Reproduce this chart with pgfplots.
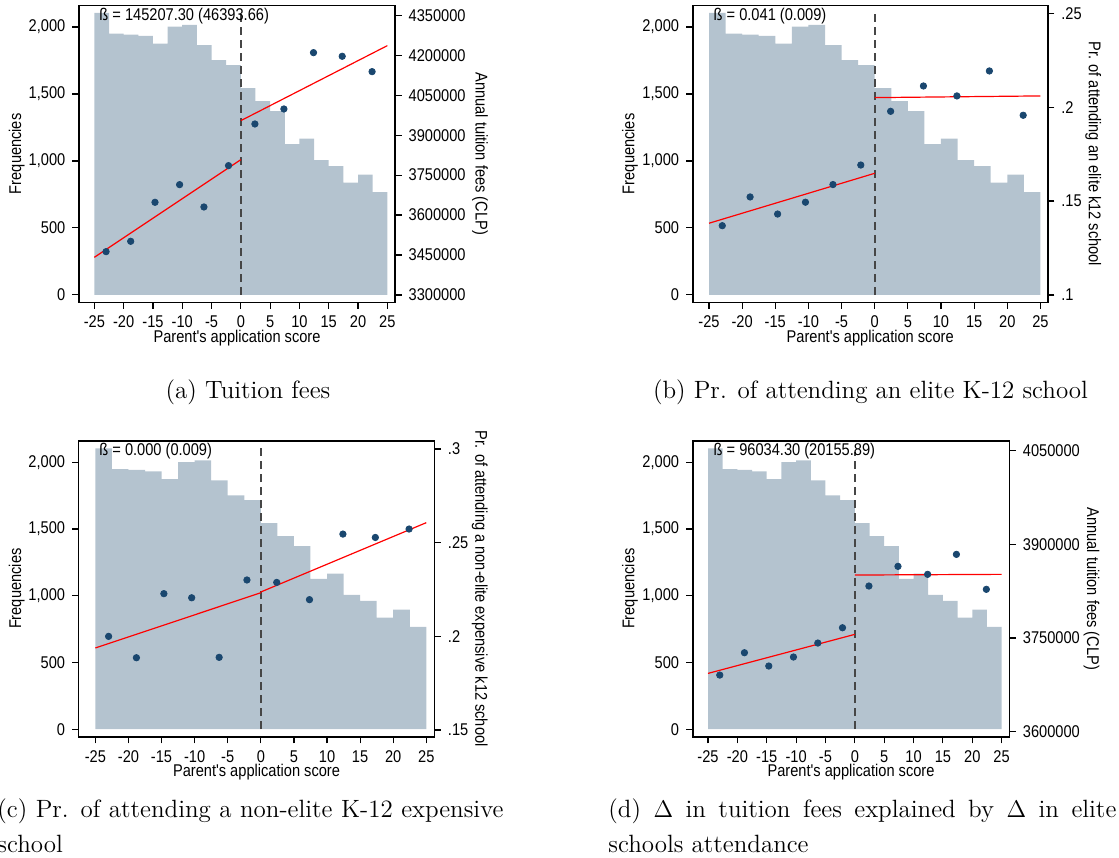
\documentclass[border=0pt]{standalone}
\usepackage{fontspec}
\usepackage{pgfplots}
\usepackage{pgfplotstable}
\pgfplotsset{compat=1.18}
\newfontfamily\statafont[FakeStretch=0.86]{Liberation Sans}
\newcommand\sfnt{\statafont\fontsize{8.5}{10}\selectfont}
\newcommand\capfnt{\fontsize{12.5}{15}\selectfont}
\definecolor{barcol}{RGB}{180,195,207}
\definecolor{navyc}{RGB}{26,71,111}
\definecolor{dashc}{RGB}{70,70,70}

\pgfplotstableread{
x f
-25 2105
-22.5 1950
-20 1943
-17.5 1933
-15 1875
-12.5 2002
-10 2015
-7.5 1865
-5 1753
-2.5 1716
0 1544
2.5 1447
5 1372
7.5 1126
10 1166
12.5 1006
15 961
17.5 837
20 897
22.5 767
25 767
}\hist

\pgfplotstableread{
x y
-23.0 3462700
-18.8 3501500
-14.65 3647900
-10.45 3714250
-6.3 3630400
-2.1 3785600
2.4 3942000
7.35 3998300
12.4 4209800
17.3 4196100
22.4 4138500
}\ptsa
\pgfplotstableread{
x y
-23.0 0.1369
-18.8 0.1522
-14.65 0.1431
-10.45 0.1494
-6.3 0.1588
-2.1 0.1692
2.4 0.1978
7.35 0.2113
12.4 0.2060
17.3 0.2193
22.4 0.1957
}\ptsb
\pgfplotstableread{
x y
-23.0 0.2000
-18.8 0.1886
-14.65 0.2228
-10.45 0.2206
-6.3 0.1888
-2.1 0.2301
2.4 0.2288
7.35 0.2196
12.4 0.2546
17.3 0.2528
22.4 0.2573
}\ptsc
\pgfplotstableread{
x y
-23.0 3690700
-18.8 3726500
-14.65 3705200
-10.45 3719600
-6.3 3742000
-2.1 3766500
2.4 3833300
7.35 3864800
12.4 3852000
17.3 3884000
22.4 3828000
}\ptsd

\pgfplotsset{
  common/.style={
    scale only axis,
    tick align=outside,
    major tick length=3.3pt,
    every tick/.style={black, line width=0.6pt},
    every tick label/.append style={font=\sfnt},
    label style={font=\sfnt},
    axis line style={line width=0.8pt},
    scaled y ticks=false,
  },
  leftax/.style={
    common,
    ymin=-56, ymax=2162,
    xtick={-25,-20,-15,-10,-5,0,5,10,15,20,25},
    xticklabels={-25,-20,-15,-10,-5,0,5,10,15,20,25},
    ytick={0,500,1000,1500,2000},
    yticklabels={0,500,{1,000},{1,500},{2,000}},
    xtick pos=left, ytick pos=left,
    ylabel={Frequencies},
    xlabel={Parent's application score},
    xlabel style={at={(axis description cs:0.5,-0.12)}, anchor=center},
  },
  rightax/.style={
    common,
    axis x line=none,
    axis y line*=right,
    ylabel style={rotate=180},
  },
}

\begin{document}
\begin{tikzpicture}
\useasboundingbox (0,0) rectangle (559.5pt,-428.5pt);

% ---------- Panel (a)
\begin{axis}[leftax, at={(39.5pt,-2.65pt)}, anchor=north west,
  width=158pt, height=148.5pt, xmin=-27.62, xmax=26.31,
  ylabel style={at={(axis description cs:-0.197,0.5)}, anchor=center}]
\addplot[ybar interval, fill=barcol, draw=none] table[x=x,y=f] {\hist};
\addplot[dashc, line width=0.8pt, dash pattern=on 4pt off 2.5pt] coordinates {(0,0) (0,2115)};
\node[anchor=west, inner sep=0, font=\sfnt] at (axis cs:-24.2,2085) {ß = 145207.30 (46393.66)};
\end{axis}
\begin{axis}[rightax, at={(39.5pt,-2.65pt)}, anchor=north west,
  width=158pt, height=148.5pt, xmin=-27.62, xmax=26.31,
  ymin=3272467, ymax=4387545,
  ytick={3300000,3450000,3600000,3750000,3900000,4050000,4200000,4350000},
  yticklabels={3300000,3450000,3600000,3750000,3900000,4050000,4200000,4350000},
  ylabel={Annual tuition fees (CLP)},
  ylabel style={at={(axis description cs:1.269,0.5)}, anchor=center}]
\addplot[red, line width=0.6pt] coordinates {(-25,3441400) (0,3808100)};
\addplot[red, line width=0.6pt] coordinates {(0,3954500) (25,4236100)};
\addplot[only marks, mark=*, mark size=1.6pt, navyc] table[x=x,y=y] {\ptsa};
\end{axis}

% ---------- Panel (b)
\begin{axis}[leftax, at={(346.35pt,-2.65pt)}, anchor=north west,
  width=177.5pt, height=148.5pt, xmin=-27.46, xmax=26.1,
  ylabel style={at={(axis description cs:-0.177,0.5)}, anchor=center}]
\addplot[ybar interval, fill=barcol, draw=none] table[x=x,y=f] {\hist};
\addplot[dashc, line width=0.8pt, dash pattern=on 4pt off 2.5pt] coordinates {(0,0) (0,2105)};
\node[anchor=west, inner sep=0, font=\sfnt] at (axis cs:-24.35,2085) {ß = 0.041 (0.009)};
\end{axis}
\begin{axis}[rightax, at={(346.35pt,-2.65pt)}, anchor=north west,
  width=177.5pt, height=148.5pt, xmin=-27.46, xmax=26.1,
  ymin=0.0961, ymax=0.25426,
  ytick={0.1,0.15,0.2,0.25},
  yticklabels={.1,.15,.2,.25},
  ylabel={Pr. of attending an elite k12 school},
  ylabel style={at={(axis description cs:1.128,0.5)}, anchor=center}]
\addplot[red, line width=0.6pt] coordinates {(-25,0.1382) (0,0.1648)};
\addplot[red, line width=0.6pt] coordinates {(0,0.2051) (25,0.2060)};
\addplot[only marks, mark=*, mark size=1.6pt, navyc] table[x=x,y=y] {\ptsb};
\end{axis}

% ---------- Panel (c)
\begin{axis}[leftax, at={(39.35pt,-220.35pt)}, anchor=north west,
  width=177.8pt, height=148pt, xmin=-27.52, xmax=26.21,
  ylabel style={at={(axis description cs:-0.174,0.5)}, anchor=center}]
\addplot[ybar interval, fill=barcol, draw=none] table[x=x,y=f] {\hist};
\addplot[dashc, line width=0.8pt, dash pattern=on 4pt off 2.5pt] coordinates {(0,0) (0,2105)};
\node[anchor=west, inner sep=0, font=\sfnt] at (axis cs:-24.45,2085) {ß = 0.000 (0.009)};
\end{axis}
\begin{axis}[rightax, at={(39.35pt,-220.35pt)}, anchor=north west,
  width=177.8pt, height=148pt, xmin=-27.52, xmax=26.21,
  ymin=0.14644, ymax=0.30445,
  ytick={0.15,0.2,0.25,0.3},
  yticklabels={.15,.2,.25,.3},
  ylabel={Pr. of attending a non-elite expensive k12 school},
  ylabel style={at={(axis description cs:1.128,0.5)}, anchor=center}]
\addplot[red, line width=0.6pt] coordinates {(-25,0.1938) (0,0.2233)};
\addplot[red, line width=0.6pt] coordinates {(0,0.2237) (25,0.2607)};
\addplot[only marks, mark=*, mark size=1.6pt, navyc] table[x=x,y=y] {\ptsc};
\end{axis}

% ---------- Panel (d)
\begin{axis}[leftax, at={(346.35pt,-220.35pt)}, anchor=north west,
  width=158.3pt, height=148pt, xmin=-27.61, xmax=26.31,
  ylabel style={at={(axis description cs:-0.198,0.5)}, anchor=center}]
\addplot[ybar interval, fill=barcol, draw=none] table[x=x,y=f] {\hist};
\addplot[dashc, line width=0.8pt, dash pattern=on 4pt off 2.5pt] coordinates {(0,0) (0,2075)};
\node[anchor=west, inner sep=0, font=\sfnt] at (axis cs:-24.1,2085) {ß = 96034.30 (20155.89)};
\end{axis}
\begin{axis}[rightax, at={(346.35pt,-220.35pt)}, anchor=north west,
  width=158.3pt, height=148pt, xmin=-27.61, xmax=26.31,
  ymin=3591993, ymax=4066014,
  ytick={3600000,3750000,3900000,4050000},
  yticklabels={3600000,3750000,3900000,4050000},
  ylabel={Annual tuition fees (CLP)},
  ylabel style={at={(axis description cs:1.26,0.5)}, anchor=center}]
\addplot[red, line width=0.6pt] coordinates {(-25,3693400) (0,3755900)};
\addplot[red, line width=0.6pt] coordinates {(0,3850900) (25,3852000)};
\addplot[only marks, mark=*, mark size=1.6pt, navyc] table[x=x,y=y] {\ptsd};
\end{axis}

% ---------- Captions
\node[anchor=base, inner sep=0, font=\capfnt] at (124pt,-199pt) {(a) Tuition fees};
\node[anchor=base, inner sep=0, font=\capfnt] at (435.25pt,-199pt) {(b) Pr. of attending an elite K-12 school};
\node[anchor=base west, inner sep=0, font=\capfnt] at (-1.5pt,-408.5pt) {\makebox[253pt][s]{(c) Pr. of attending a non-elite K-12 expensive}};
\node[anchor=base west, inner sep=0, font=\capfnt] at (-1.5pt,-426pt) {school};
\node[anchor=base west, inner sep=0, font=\capfnt] at (304pt,-408.5pt) {\makebox[254pt][s]{(d) $\Delta$ in tuition fees explained by $\Delta$ in elite}};
\node[anchor=base west, inner sep=0, font=\capfnt] at (304pt,-426pt) {schools attendance};
\end{tikzpicture}
\end{document}
